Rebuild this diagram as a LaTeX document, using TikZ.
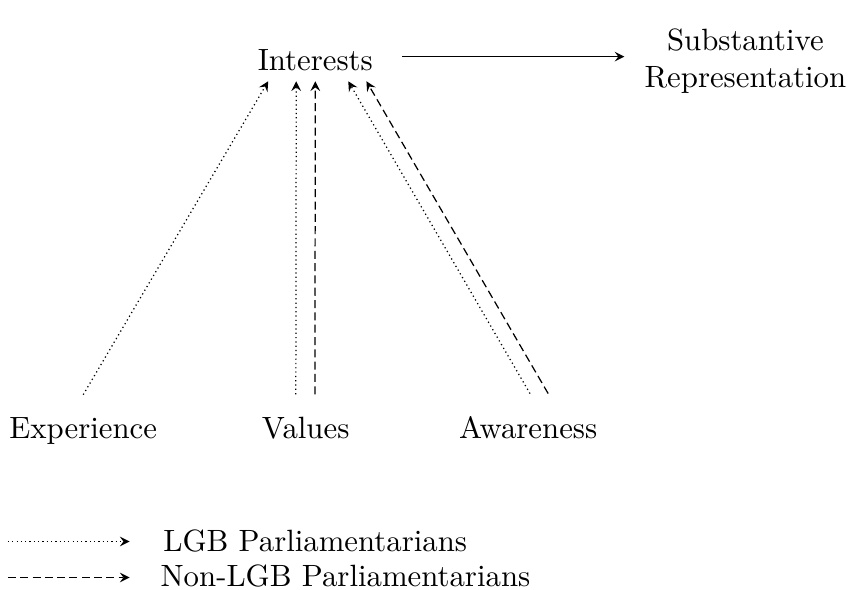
\documentclass[tikz,border=0pt]{standalone}
\usetikzlibrary{positioning}
\tikzset{lgb/.style={densely dotted,->,>=stealth},
	nonlgb/.style={dash pattern=on 2.6pt off 1.4pt,->,>=stealth}}
\begin{document}
\begin{tikzpicture}%LGB
		\useasboundingbox (0,0) rectangle (9.75,6.73);
		\node[anchor=base] (int) at (3.60,5.93) {Interests};
		\node[align=center] (sub) at (8.51,6.03) {Substantive\\Representation};
		\node[anchor=base] (exp) at (0.95,1.72) {Experience};
		\node[anchor=base] (val) at (3.49,1.72) {Values};
		\node[anchor=base] (awa) at (6.03,1.72) {Awareness};
		\coordinate (subw) at ([yshift=1pt]int.east -| sub.west);
		\draw[->,>=stealth] ([xshift=6pt,yshift=1pt]int.east)--([xshift=-3pt]subw);
		\draw[lgb] ([yshift=4pt]exp.north)--([xshift=-15.3pt]int.south);
		\draw[lgb] ([xshift=-3.2pt,yshift=4pt]val.north)--([xshift=-6.2pt]int.south);
		\draw[nonlgb] ([xshift=3pt,yshift=4pt]val.north)--(int.south);
		\draw[lgb] ([xshift=0.6pt,yshift=4pt]awa.north)--([xshift=10.7pt]int.south);
		\draw[nonlgb] ([xshift=6.5pt,yshift=4pt]awa.north)--([xshift=16.6pt]int.south);
		%legend
		\coordinate (l1) at (0.09,0.548);
		\coordinate (l2) at (0.09,0.137);
		\node[anchor=base west] (leg1) at (1.74,0.434) {LGB Parliamentarians};
		\node[anchor=base west] (leg2) at (1.71,0.034) {Non-LGB Parliamentarians};
		\draw[lgb] (l1)--(l1-|1.48,0);
		\draw[nonlgb] (l2)--(l2-|1.48,0);
		\end{tikzpicture}
\end{document}
